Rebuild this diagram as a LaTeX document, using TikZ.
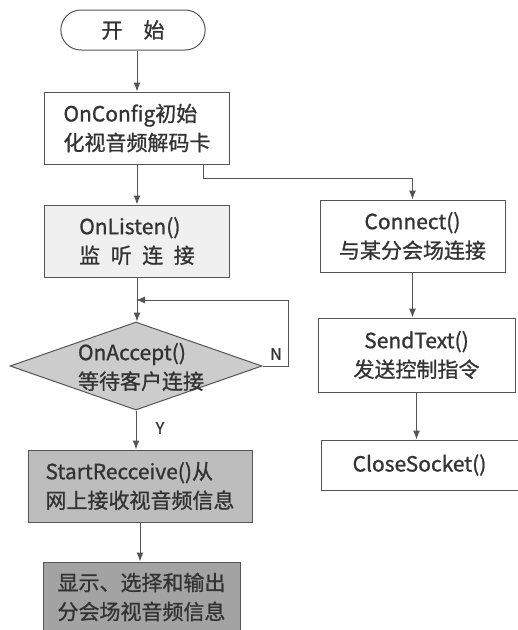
\documentclass[tikz,border=0pt]{standalone}
\usepackage{fontspec}
\setmainfont{Noto Sans CJK SC}[FakeBold=1, UprightFont=*, BoldFont=*]
\usetikzlibrary{shapes.misc,shapes.geometric,arrows.meta}
\definecolor{inkgray}{HTML}{333333}
\definecolor{linegray}{HTML}{555555}
\tikzset{
    every node/.style={text=inkgray, font=\fontsize{21}{29}\selectfont\bfseries},
    terminal/.style={rounded rectangle, draw=linegray, line width=1pt, minimum width=151pt, minimum height=40pt},
    process/.style={rectangle, draw=linegray, line width=1pt, minimum width=#1, minimum height=72pt, inner sep=0pt},
    process/.default=185pt,
    decision/.style={diamond, draw=linegray, line width=1pt, fill=gray!40, minimum width=252pt, minimum height=88pt, inner sep=0pt},
    arrow/.style={draw=linegray, line width=1pt, -{Latex[length=9pt,width=7pt]}},
    branchlabel/.style={font=\fontsize{16}{18}\selectfont\mdseries}
}
\begin{document}
\begin{tikzpicture}[x=1pt, y=-1pt]
                    \useasboundingbox (0,0) rectangle (518,630);
                    % left column
                    \node[terminal] (start) at (133,30) {开\quad 始};
                    \node[process, align=left] (config) at (137,128) {OnConfig初始\\化视音频解码卡};
                    \node[process, align=left, fill=gray!12] (listen) at (137,241) {OnListen()\\监\enspace 听\enspace 连\enspace 接};
                    \node[decision] (accept) at (136,366) {};
                    \node[align=left] (accepttext) at (141,367) {OnAccept()\\等待客户连接};
                    \node[process=224pt, align=left, fill=gray!52] (receive) at (140,486) {StartRecceive()从\\网上接收视音频信息};
                    \node[process=197pt, minimum height=70pt, align=left, fill=gray!72] (display) at (141.5,597) {显示、选择和输出\\分会场视音频信息};
                    % right column
                    \node[process, align=center] (connect) at (412.5,236) {Connect()\\与某分会场连接};
                    \node[process=197pt, minimum height=74pt, align=center] (sendtext) at (416.5,355) {SendText()\\发送控制指令};
                    \node[process=197pt, minimum height=50pt] (closesocket) at (419.5,465) {CloseSocket()};
                    \coordinate (loop) at (288,300);
                    % connectors
                    \draw[arrow] (start.south -| config.north) -- (config.north);
                    \draw[arrow] (config) -- (listen);
                    \draw[arrow] (listen.south) -- (listen.south |- accept.north);
                    \draw[arrow] (accept.east) -| (loop) -- (loop -| accept.north);
                    \draw[arrow] (accept.south) -- (accept.south |- receive.north);
                    \draw[arrow] (receive) -- (receive.south |- display.north);
                    \draw[arrow] ([xshift=66pt]config.south) |- ++(0,14) -| (connect.north);
                    \draw[arrow] (connect) -- (connect.south |- sendtext.north);
                    \draw[arrow] (sendtext) -- (sendtext.south |- closesocket.north);
                    \node[branchlabel] (nlabel) at (276,354) {N};
                    \node[branchlabel] (ylabel) at (160,428) {Y};
                \end{tikzpicture}
\end{document}
